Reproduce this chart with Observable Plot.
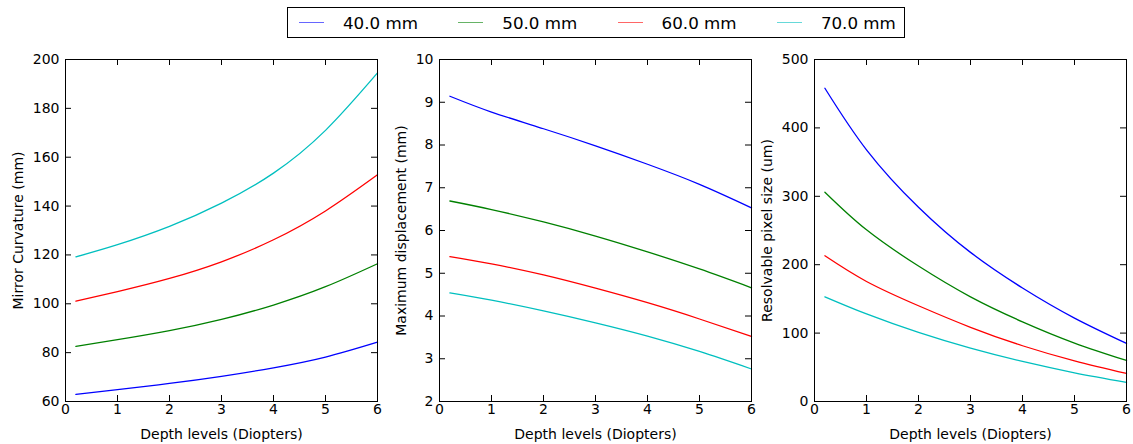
<!DOCTYPE html>
<html>
<head>
<meta charset="utf-8">
<script src="https://cdn.jsdelivr.net/npm/d3@7"></script>
<script src="https://cdn.jsdelivr.net/npm/@observablehq/plot@0.6"></script>
<style>
  html, body { margin: 0; padding: 0; background: white; }
  #root { position: relative; width: 1133px; height: 444px; overflow: hidden; font-family: "DejaVu Sans", sans-serif; }
  .panel { position: absolute; top: 49px; }
  #legend { position: absolute; left: 287px; top: 7px; width: 618px; height: 31px; box-sizing: border-box; border: 1px solid black; }
  .entry { position: absolute; top: 0; height: 29px; }
  .swatch { position: absolute; top: 14px; width: 25px; height: 0; border-top: 1.4px solid; opacity: 0.6; }
  .lab { position: absolute; left: 44px; top: 4px; font-size: 16.7px; line-height: 22px; white-space: nowrap; color: #000; }
</style>
</head>
<body>
<div id="root">
  <div id="legend"></div>
</div>
<script>
// ---- data ----
const depth = [0.2, 1, 2, 3, 4, 5, 6];
const seriesLabels = ["40.0 mm", "50.0 mm", "60.0 mm", "70.0 mm"];
const seriesColors = ["#0000ff", "#008000", "#ff0000", "#00bfbf"];

const curvature40 = [62.9, 64.9, 67.4, 70.3, 73.8, 78.2, 84.3];
const curvature50 = [82.6, 85.3, 89.0, 93.6, 99.5, 107.0, 116.4];
const curvature60 = [101.1, 105.0, 110.4, 117.2, 126.2, 138.0, 152.8];
const curvature70 = [119.2, 124.2, 131.7, 141.2, 153.5, 171.0, 194.5];

const displacement40 = [9.14, 8.77, 8.38, 7.98, 7.55, 7.08, 6.53];
const displacement50 = [6.69, 6.49, 6.20, 5.87, 5.50, 5.10, 4.66];
const displacement60 = [5.39, 5.22, 4.96, 4.65, 4.31, 3.93, 3.52];
const displacement70 = [4.54, 4.37, 4.12, 3.84, 3.53, 3.17, 2.76];

const pixel40 = [458, 368, 284, 218, 166, 122, 85];
const pixel50 = [306, 251, 198, 153, 116.5, 85.5, 60];
const pixel60 = [213, 175.5, 140, 108.5, 81.5, 59.5, 41];
const pixel70 = [153, 128, 101, 78, 58.5, 42, 28];

const xTicks = [0, 1, 2, 3, 4, 5, 6];
const yTicks1 = [60, 80, 100, 120, 140, 160, 180, 200];
const yTicks2 = [2, 3, 4, 5, 6, 7, 8, 9, 10];
const yTicks3 = [0, 100, 200, 300, 400, 500];

const xLabel = "Depth levels (Diopters)";
const yLabel1 = "Mirror Curvature (mm)";
const yLabel2 = "Maximum displacement (mm)";
const yLabel3 = "Resolvable pixel size (um)";

// ---- drawing ----
const FW = 312, FH = 342, ML = 60, MR = 5, MT = 10, MB = 43;

function panel(seriesValues, yTicks, yLabel, frameLeft, yLabelDx) {
  const marks = [];
  seriesValues.forEach((vals, i) => {
    const rows = depth.map((d, j) => ({depth: d, value: vals[j]}));
    marks.push(Plot.line(rows, {x: "depth", y: "value", stroke: seriesColors[i], strokeWidth: 1.3, curve: "natural"}));
  });
  marks.push(
    Plot.tickY(yTicks, {y: d => d, insetRight: FW - 6, stroke: "black"}),
    Plot.tickY(yTicks, {y: d => d, insetLeft: FW - 6, stroke: "black"}),
    Plot.tickX(xTicks, {x: d => d, insetTop: FH - 6, stroke: "black"}),
    Plot.tickX(xTicks, {x: d => d, insetBottom: FH - 6, stroke: "black"}),
    Plot.frame({stroke: "black", strokeWidth: 1}),
    Plot.axisY({ticks: yTicks, tickSize: 0, tickPadding: 6, label: null, tickFormat: d => String(d)}),
    Plot.axisX({ticks: xTicks, tickSize: 0, tickPadding: 3, label: null, tickFormat: d => String(d)}),
    Plot.text([xLabel], {text: d => d, frameAnchor: "bottom", dy: 33, textAnchor: "middle", lineAnchor: "middle", fontSize: 14}),
    Plot.text([yLabel], {text: d => d, frameAnchor: "left", rotate: -90, dx: yLabelDx, textAnchor: "middle", lineAnchor: "middle", fontSize: 14})
  );
  const svg = Plot.plot({
    width: ML + FW + MR, height: MT + FH + MB,
    marginLeft: ML, marginRight: MR, marginTop: MT, marginBottom: MB,
    x: {domain: [0, 6]},
    y: {domain: [yTicks[0], yTicks[yTicks.length - 1]]},
    style: {fontFamily: "DejaVu Sans", fontSize: "14px", color: "black", background: "transparent", overflow: "visible"},
    marks
  });
  const wrap = document.createElement("div");
  wrap.className = "panel";
  wrap.style.left = (frameLeft - ML) + "px";
  wrap.appendChild(svg);
  document.getElementById("root").appendChild(wrap);
}

panel([curvature40, curvature50, curvature60, curvature70], yTicks1, yLabel1, 65, -46.5);
panel([displacement40, displacement50, displacement60, displacement70], yTicks2, yLabel2, 439, -38);
panel([pixel40, pixel50, pixel60, pixel70], yTicks3, yLabel3, 814, -46.5);

// legend
const legend = document.getElementById("legend");
seriesLabels.forEach((lab, i) => {
  const e = document.createElement("div");
  e.className = "entry";
  e.style.left = (11 + i * 159.3) + "px";
  const sw = document.createElement("div");
  sw.className = "swatch";
  sw.style.borderTopColor = seriesColors[i];
  const t = document.createElement("div");
  t.className = "lab";
  t.textContent = lab;
  e.appendChild(sw); e.appendChild(t);
  legend.appendChild(e);
});
</script>
</body>
</html>
